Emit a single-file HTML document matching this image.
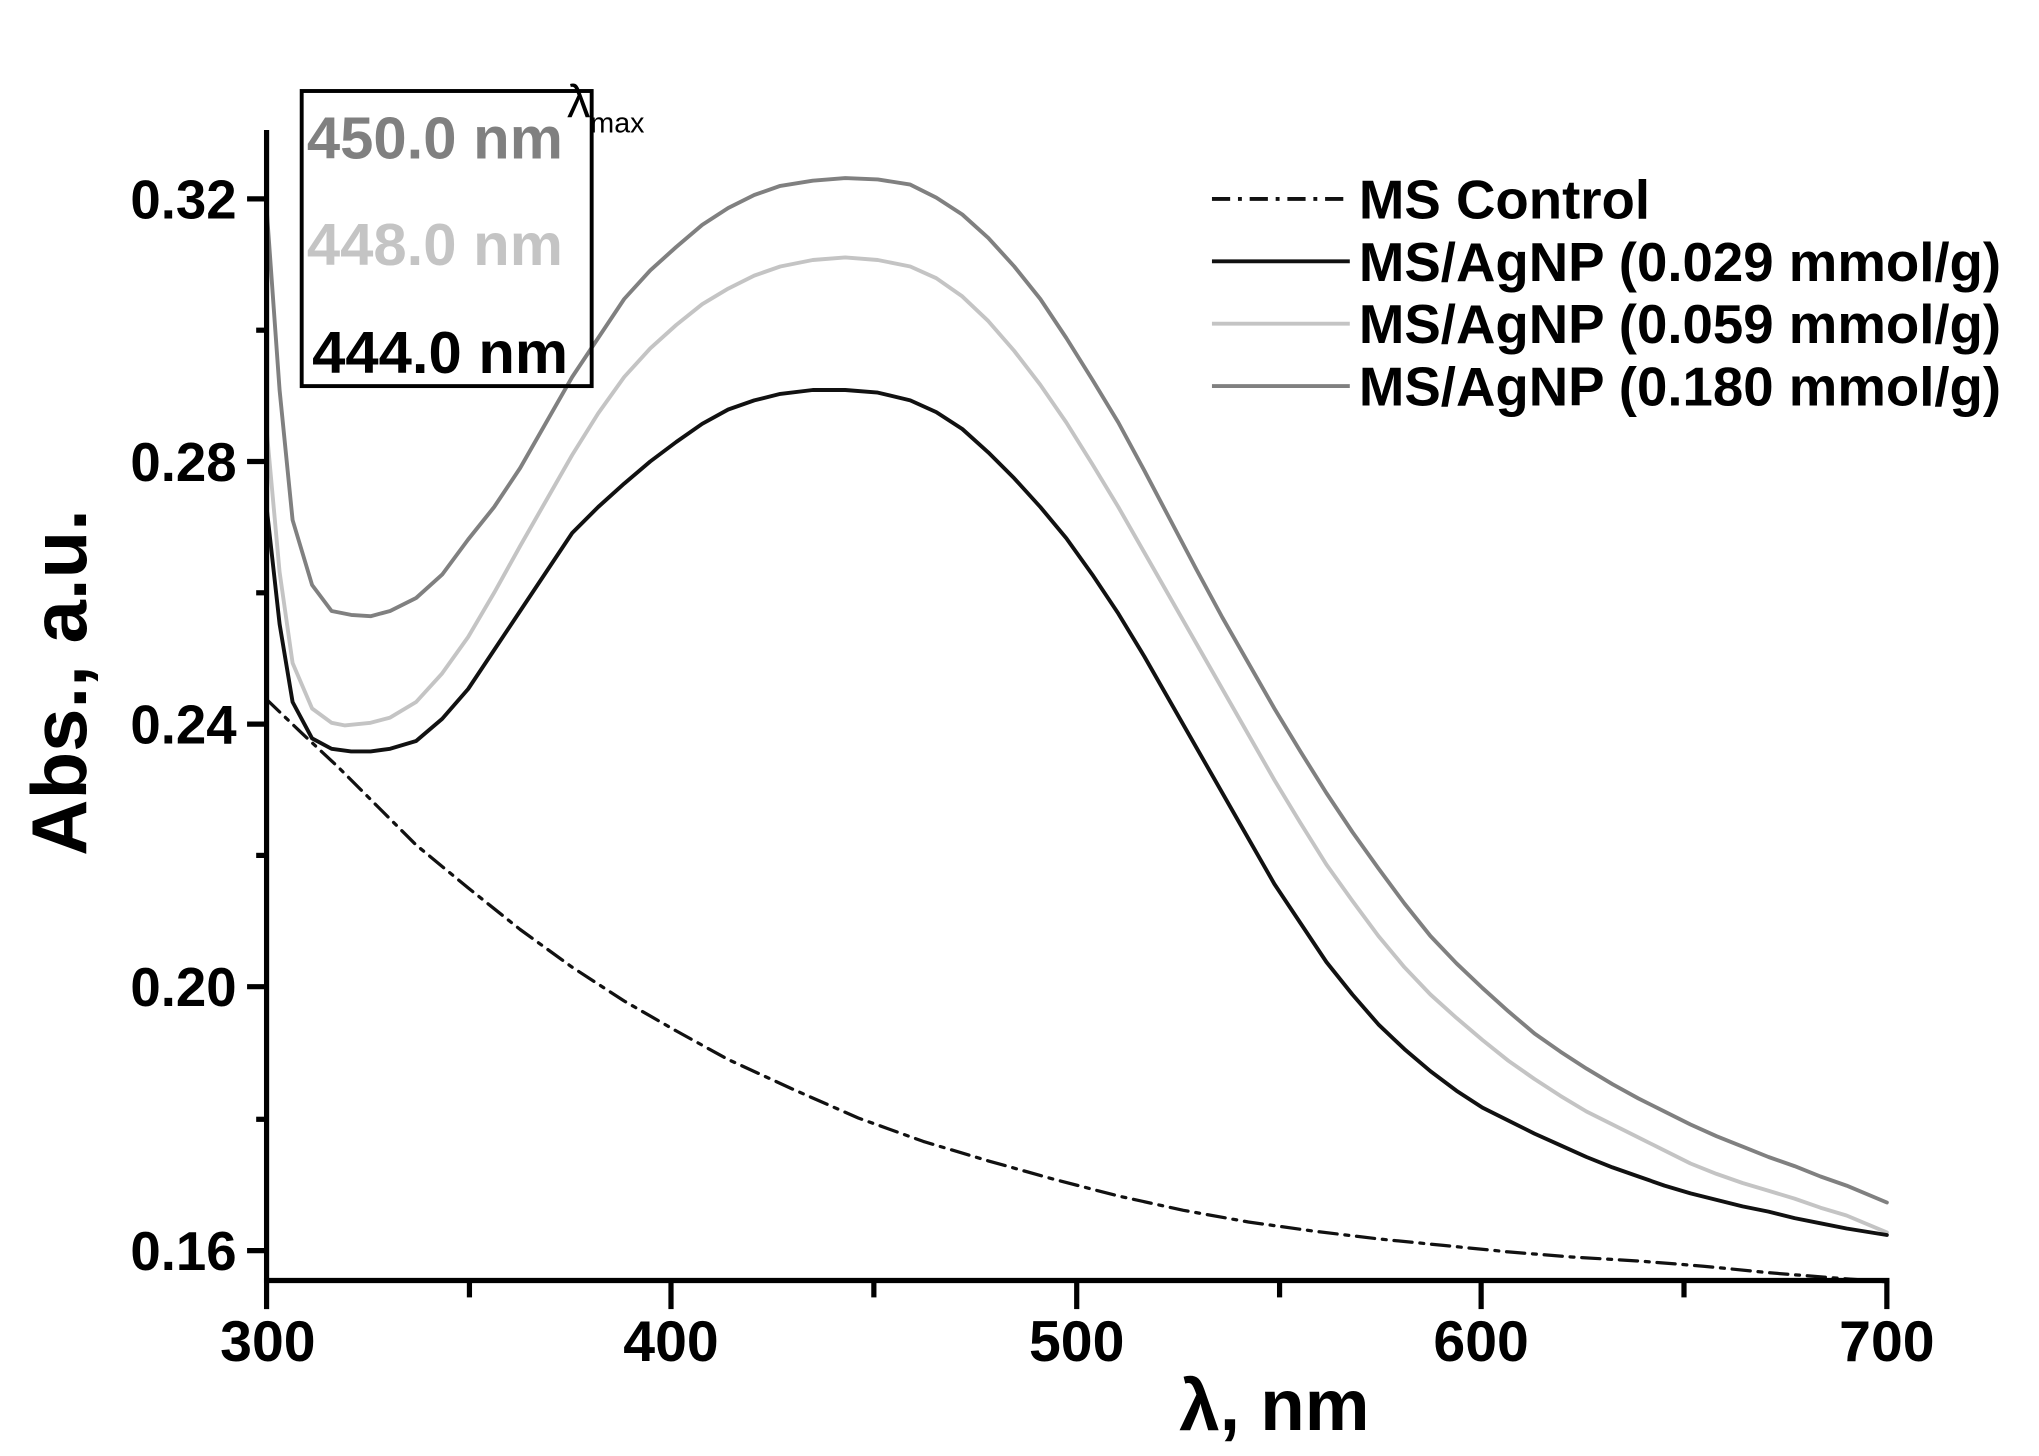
<!DOCTYPE html>
<html><head><meta charset="utf-8"><style>html,body{margin:0;padding:0;background:#fff}svg{display:block}</style></head>
<body>
<svg width="2039" height="1456" viewBox="0 0 1568 1120" preserveAspectRatio="none" xmlns="http://www.w3.org/2000/svg" font-family="Liberation Sans, Arial, sans-serif" font-weight="bold">
<g fill="none" stroke-linejoin="round" stroke-linecap="round">
<polyline stroke="#808080" stroke-width="3" points="205,160 215,300 225,400 240,450 255,470 270,473 285,474 300,470 320,460 340,442 360,415 380,390 400,360 420,325 440,290 460,260 480,230 500,208 520,190 540,173 560,160 580,150 600,143 625,139 650,137 675,138 700,142 720,152 740,165 760,183 780,205 800,230 820,260 840,292 860,325 880,362 900,400 920,438 940,475 960,510 980,545 1000,578 1020,610 1040,640 1060,668 1080,695 1100,720 1120,741 1140,760 1160,778 1180,795 1200,809 1220,822 1240,834 1260,845 1280,855 1300,865 1320,874 1340,882 1360,890 1380,897 1400,905 1420,912 1451,925"/>
<polyline stroke="#c4c4c4" stroke-width="3" points="205,330 215,440 225,510 240,545 255,556 265,558 285,556 300,552 320,540 340,518 360,490 380,456 400,420 420,385 440,350 460,318 480,290 500,268 520,250 540,234 560,222 580,212 600,205 625,200 650,198 675,200 700,205 720,214 740,228 760,247 780,270 800,296 820,325 840,357 860,390 880,425 900,460 920,495 940,530 960,565 980,600 1000,633 1020,665 1040,693 1060,720 1080,744 1100,765 1120,783 1140,800 1160,816 1180,830 1200,843 1220,855 1240,865 1260,875 1280,885 1300,895 1320,903 1340,910 1360,916 1380,922 1400,929 1420,935 1451,948"/>
<polyline stroke="#111" stroke-width="3" points="205,390 215,480 225,540 240,568 255,576 270,578 285,578 300,576 320,570 340,553 360,530 380,500 400,470 420,440 440,410 460,390 480,372 500,355 520,340 540,326 560,315 580,308 600,303 625,300 650,300 675,302 700,308 720,317 740,330 760,348 780,368 800,390 820,414 840,442 860,472 880,505 900,540 920,575 940,610 960,645 980,680 1000,710 1020,740 1040,765 1060,788 1080,807 1100,824 1120,839 1140,852 1160,862 1180,872 1200,881 1220,890 1240,898 1260,905 1280,912 1300,918 1320,923 1340,928 1360,932 1380,937 1400,941 1420,945 1451,950"/>
<polyline stroke="#111" stroke-width="2.5" stroke-dasharray="14,6,3,6" points="205,538 230,562 260,590 290,620 320,650 360,683 400,715 440,744 480,770 520,793 560,815 610,838 660,860 710,878 760,893 810,907 860,920 910,931 960,940 1010,947 1060,953 1110,958 1160,963 1210,967 1260,970 1310,974 1360,979 1410,983 1451,986"/>
</g>
<g stroke="#000" stroke-width="4" stroke-linecap="butt">
<line x1="205" y1="100" x2="205" y2="1007"/>
<line x1="203" y1="985" x2="1453" y2="985"/>
<line x1="190" y1="962" x2="205" y2="962"/><line x1="190" y1="759" x2="205" y2="759"/><line x1="190" y1="557" x2="205" y2="557"/><line x1="190" y1="355" x2="205" y2="355"/><line x1="190" y1="153" x2="205" y2="153"/>
<line x1="197" y1="861" x2="205" y2="861"/><line x1="197" y1="658" x2="205" y2="658"/><line x1="197" y1="456" x2="205" y2="456"/><line x1="197" y1="254" x2="205" y2="254"/>
<line x1="516" y1="985" x2="516" y2="1007"/><line x1="828" y1="985" x2="828" y2="1007"/><line x1="1139" y1="985" x2="1139" y2="1007"/><line x1="1451" y1="985" x2="1451" y2="1007"/>
<line x1="361" y1="985" x2="361" y2="998"/><line x1="672" y1="985" x2="672" y2="998"/><line x1="984" y1="985" x2="984" y2="998"/><line x1="1295" y1="985" x2="1295" y2="998"/>
</g>
<g font-size="42" fill="#000" text-anchor="end">
<text x="182" y="977">0.16</text><text x="182" y="774">0.20</text><text x="182" y="572">0.24</text><text x="182" y="370">0.28</text><text x="182" y="168">0.32</text>
</g>
<g font-size="44" fill="#000" text-anchor="middle">
<text x="206" y="1047">300</text><text x="516" y="1047">400</text><text x="828" y="1047">500</text><text x="1139" y="1047">600</text><text x="1451" y="1047">700</text>
</g>
<text x="980" y="1100" font-size="56" text-anchor="middle">λ, nm</text>
<text transform="translate(66,525) rotate(-90)" font-size="60" text-anchor="middle">Abs., a.u.</text>
<rect x="232" y="70" width="223" height="227" fill="none" stroke="#000" stroke-width="3"/>
<g font-size="46">
<text x="236" y="122" fill="#808080">450.0 nm</text>
<text x="236" y="204" fill="#c4c4c4">448.0 nm</text>
<text x="240" y="287" fill="#000">444.0 nm</text>
</g>
<text x="436" y="90" font-size="36" font-weight="normal">λ<tspan font-size="22" dy="12">max</tspan></text>
<g stroke-width="3">
<line x1="932" y1="153" x2="1038" y2="153" stroke="#111" stroke-dasharray="14,6,3,6"/>
<line x1="932" y1="201" x2="1038" y2="201" stroke="#111"/>
<line x1="932" y1="249" x2="1038" y2="249" stroke="#c4c4c4"/>
<line x1="932" y1="297" x2="1038" y2="297" stroke="#808080"/>
</g>
<g font-size="42" fill="#000">
<text x="1045" y="168">MS Control</text>
<text x="1045" y="216">MS/AgNP (0.029 mmol/g)</text>
<text x="1045" y="264">MS/AgNP (0.059 mmol/g)</text>
<text x="1045" y="312">MS/AgNP (0.180 mmol/g)</text>
</g>
</svg>
</body></html>
